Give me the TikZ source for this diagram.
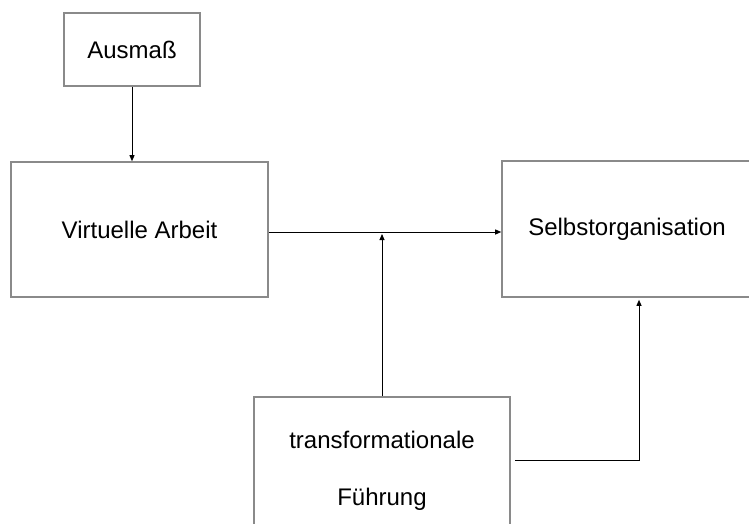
\documentclass[tikz,border=0pt]{standalone}
\usepackage{fontspec}
\setmainfont{Liberation Sans}
\usetikzlibrary{arrows.meta, positioning, calc}

\begin{document}
\begin{tikzpicture}[
            x=1pt, y=-1pt,
            box/.style={draw={rgb,255:red,138;green,138;blue,138},
                    line width=1.6pt, fill=white, inner sep=0pt,
                    align=center, font=\fontsize{24}{28}\selectfont},
            arr/.style={-{Triangle[length=6pt, width=5pt]}, line width=0.9pt,
                    color=black}
        ]

        \useasboundingbox (0,0) rectangle (749,524);

        % ---------------------------------------------------------------
        % NODES
        % ---------------------------------------------------------------

        % Moderator
        \node[box, minimum width=136pt, minimum height=73pt] (ausmass) at (132,49.5) {Ausmaß};

        % Predictor
        \node[box, minimum width=257pt, minimum height=135pt] (virtuell) at (139.5,229.5) {Virtuelle Arbeit};

        % Outcome
        \node[box, minimum width=250pt, minimum height=136pt] (selbst) at (627,229) {Selbstorganisation};

        % Leadership
        \node[box, minimum width=256pt, minimum height=148pt] (fuehrung) at (382,471)
            {transformationale\\[29pt]Führung};

        % Arrows
        \draw[arr] (ausmass.south) -- (virtuell.north -| ausmass.south);
        \draw[arr] ([yshift=-2.5pt]virtuell.east) -- ([yshift=-2.5pt]virtuell.east -| selbst.west);
        \draw[arr, shorten >=2pt] (fuehrung.north) -- ([yshift=-2.5pt]fuehrung.north |- virtuell.east);
        \draw[arr, shorten <=4pt, shorten >=2pt] ([yshift=11pt]fuehrung.east) -| ([xshift=12pt]selbst.south);

    \end{tikzpicture}
\end{document}
